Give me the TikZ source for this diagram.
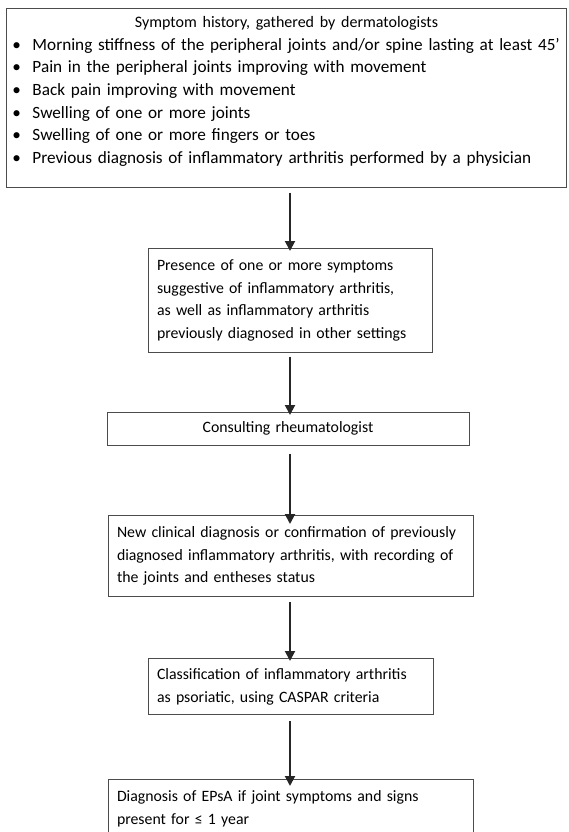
\documentclass[tikz,border=0pt]{standalone}
\usepackage{fontspec}
\setmainfont{Carlito}
\usetikzlibrary{arrows.meta}

\tikzset{
  box/.style={draw=black!70, line width=1pt, inner xsep=9pt, inner ysep=11pt,
    align=left, font=\fontsize{15.8}{22.7}\selectfont},
  flow/.style={draw=black!85, line width=2pt, -{Triangle[length=10pt,width=10pt]}}
}
\newcommand{\sympt}[1]{\makebox[20pt][l]{\textbullet}#1\par}

\begin{document}
\begin{tikzpicture}[x=1pt,y=1pt]
\useasboundingbox (0,0) rectangle (568,-832);
% symptom list
\node[box, anchor=north west, text width=548pt, inner xsep=6pt, inner ysep=8pt,
  font=\fontsize{17.2}{22.6}\selectfont] (history) at (6,-8)
  {\centerline{\fontsize{16}{22.6}\selectfont Symptom history, gathered by dermatologists}
   \sympt{Morning stiffness of the peripheral joints and/or spine lasting at least 45’}
   \sympt{Pain in the peripheral joints improving with movement}
   \sympt{Back pain improving with movement}
   \sympt{Swelling of one or more joints}
   \sympt{Swelling of one or more fingers or toes}
   \sympt{Previous diagnosis of inflammatory arthritis performed by a physician\rule[-16pt]{0pt}{1pt}}};
% flow boxes
\node[box, anchor=north, text width=266pt] (presence) at (290,-248)
  {Presence of one or more symptoms\\ suggestive of inflammatory arthritis,\\
   as well as inflammatory arthritis\\ previously diagnosed in other settings};
\node[box, anchor=north, text width=344pt, align=center, inner ysep=9.5pt] (consult) at (288,-412)
  {Consulting rheumatologist};
\node[box, anchor=north, text width=347pt] (newdiag) at (290.5,-515)
  {New clinical diagnosis or confirmation of previously\\ diagnosed inflammatory arthritis, with recording of\\
   the joints and entheses status};
\node[box, anchor=north, text width=267pt, inner ysep=10pt] (caspar) at (290.5,-658)
  {Classification of inflammatory arthritis\\ as psoriatic, using CASPAR criteria};
\node[box, anchor=north, text width=347pt] (epsa) at (290.5,-779)
  {Diagnosis of EPsA if joint symptoms and signs\\ present for ≤ 1 year};
% arrows
\coordinate (axis) at (290,0);
\draw[flow] ([yshift=-5pt]history.south -| axis) -- ([yshift=-3pt]presence.north -| axis);
\draw[flow] ([yshift=-4pt]presence.south -| axis) -- ([yshift=-3pt]consult.north -| axis);
\draw[flow] ([yshift=-8pt]consult.south -| axis) -- ([yshift=-9pt]newdiag.north -| axis);
\draw[flow] ([yshift=-5pt]newdiag.south -| axis) -- ([yshift=-3pt]caspar.north -| axis);
\draw[flow] ([yshift=-6pt]caspar.south -| axis) -- ([yshift=-7pt]epsa.north -| axis);
\end{tikzpicture}
\end{document}
